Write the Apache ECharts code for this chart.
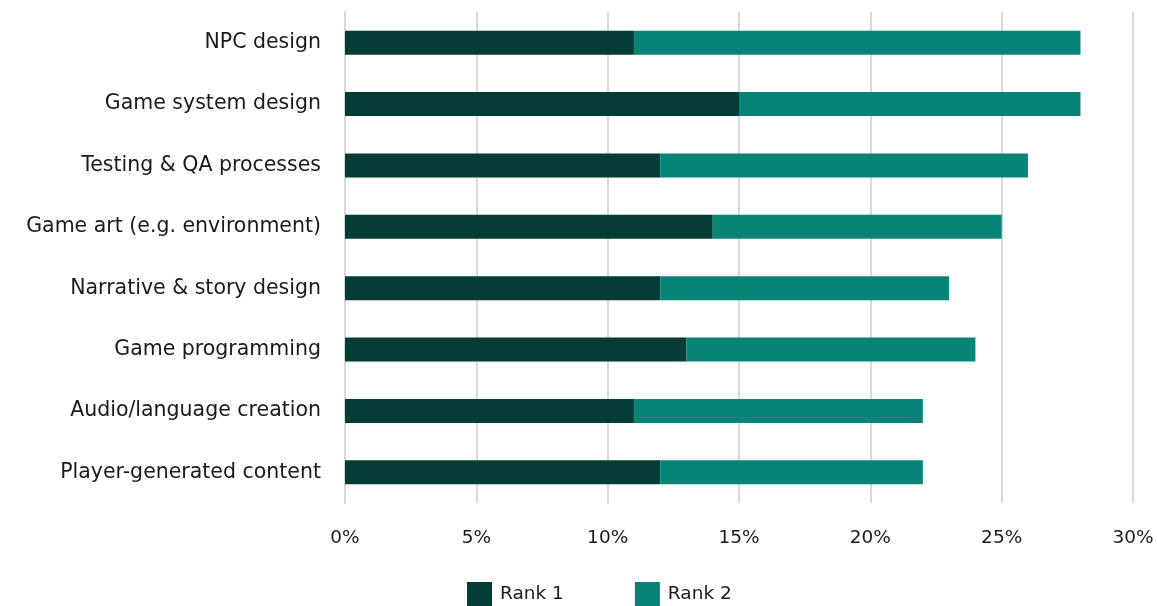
<!DOCTYPE html>
<html><head><meta charset="utf-8">
<script src="https://cdn.jsdelivr.net/npm/echarts@6/dist/echarts.min.js"></script>
<style>html,body{margin:0;padding:0;background:#fff}#c{width:1157px;height:606px}</style>
</head><body><div id="c"></div>
<script>
const categories = ["NPC design","Game system design","Testing & QA processes","Game art (e.g. environment)","Narrative & story design","Game programming","Audio/language creation","Player-generated content"];
const rank1 = [11,15,12,14,12,13,11,12];
const rank2 = [17,13,14,11,11,11,11,10];
const seriesNames = ["Rank 1","Rank 2"];
const FONT = "DejaVu Sans";
const chart = echarts.init(document.getElementById('c'));
chart.setOption({
  animation:false,
  textStyle:{fontFamily:FONT},
  grid:{left:345,right:24,top:12,bottom:103,containLabel:false},
  legend:{bottom:-5,left:462,itemWidth:25,itemHeight:24,itemGap:71,icon:'rect',
    textStyle:{fontFamily:FONT,fontSize:18.5,color:'#1a1a1a',padding:[0,0,0,3]},
    data:seriesNames},
  xAxis:{type:'value',min:0,max:30,interval:5,
    axisLabel:{formatter:'{value}%',fontFamily:FONT,fontSize:18.5,color:'#1a1a1a',margin:26},
    splitLine:{show:true,lineStyle:{color:'#d9d9d9',width:2}},
    axisLine:{show:false},axisTick:{show:false}},
  yAxis:{type:'category',data:categories,inverse:true,
    axisLabel:{fontFamily:FONT,fontSize:20.5,color:'#1a1a1a',margin:24},
    axisLine:{show:true,lineStyle:{color:'#d9d9d9',width:2}},axisTick:{show:false}},
  series:[
    {name:seriesNames[0],type:'bar',stack:'a',data:rank1,barWidth:24,itemStyle:{color:'#033D36'}},
    {name:seriesNames[1],type:'bar',stack:'a',data:rank2,barWidth:24,itemStyle:{color:'#078477'}}
  ]
});
</script></body></html>
